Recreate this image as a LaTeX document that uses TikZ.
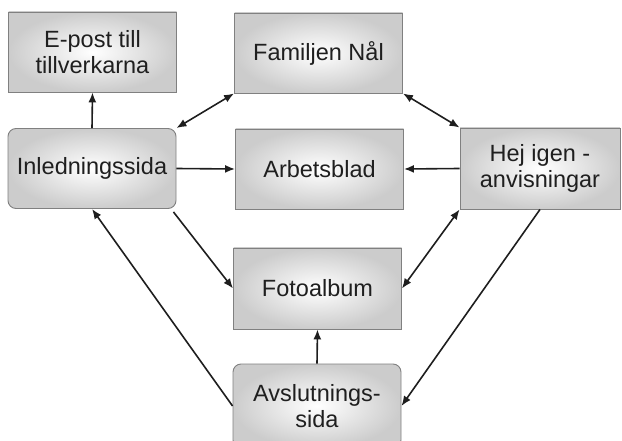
\documentclass[tikz,border=0pt]{standalone}
\usepackage{fontspec}
\setmainfont{Liberation Sans}
\usetikzlibrary{arrows.meta}
\definecolor{boxline}{RGB}{128,128,128}
\definecolor{arrowc}{RGB}{30,30,30}
\begin{document}
\begin{tikzpicture}[x=1pt,y=-1pt,
  page/.style={draw=boxline, line width=0.9pt, shading=radial,
    inner color=white, outer color=gray!40, align=center,
    font=\fontsize{23.5}{26.5}\selectfont, text=black!88,
    minimum width=168pt, minimum height=80pt, inner sep=2pt},
  roundpage/.style={page, rounded corners=8pt},
  link/.style={draw=arrowc, line width=1.6pt, -{Latex[length=10pt,width=8pt]}},
  biglink/.style={link, {Latex[length=10pt,width=8pt]}-{Latex[length=10pt,width=8pt]}}]
\useasboundingbox (0,0) rectangle (622,441);
\begin{scope}
\clip (0,0) rectangle (622,441);
\node[page] (epost) at (92.5,52) {E-post till\\tillverkarna};
\node[roundpage] (inled) at (92,168.5) {Inledningssida};
\node[page] (familj) at (318.5,53) {Familjen Nål};
\node[page] (arbet) at (319.5,169) {Arbetsblad};
\node[page, minimum width=160pt, minimum height=81pt] (hej) at (540,168.5) {Hej igen -\\anvisningar};
\node[page, minimum height=81pt] (foto) at (317.5,288.5) {Fotoalbum};
\node[page, minimum height=84pt, rounded corners=8pt] (avsl) at (317,406) {Avslutnings-\\sida};

\draw[link] (inled.north) -- (epost.south);
\draw[biglink] (inled.north east) -- (familj.south west);
\draw[biglink] (familj.south east) -- (hej.north west);
\draw[link] (inled.east) -- (arbet.west);
\draw[link] (hej.west) -- (arbet.east);
\draw[link] ([xshift=-3pt,yshift=-3pt]inled.south east) -- (foto.west);
\draw[biglink] (hej.south west) -- (foto.east);
\draw[link] (avsl.west) -- (inled.south);
\draw[link] (hej.south) -- (avsl.east);
\draw[link] (avsl.north) -- (foto.south);
\end{scope}
\end{tikzpicture}
\end{document}
